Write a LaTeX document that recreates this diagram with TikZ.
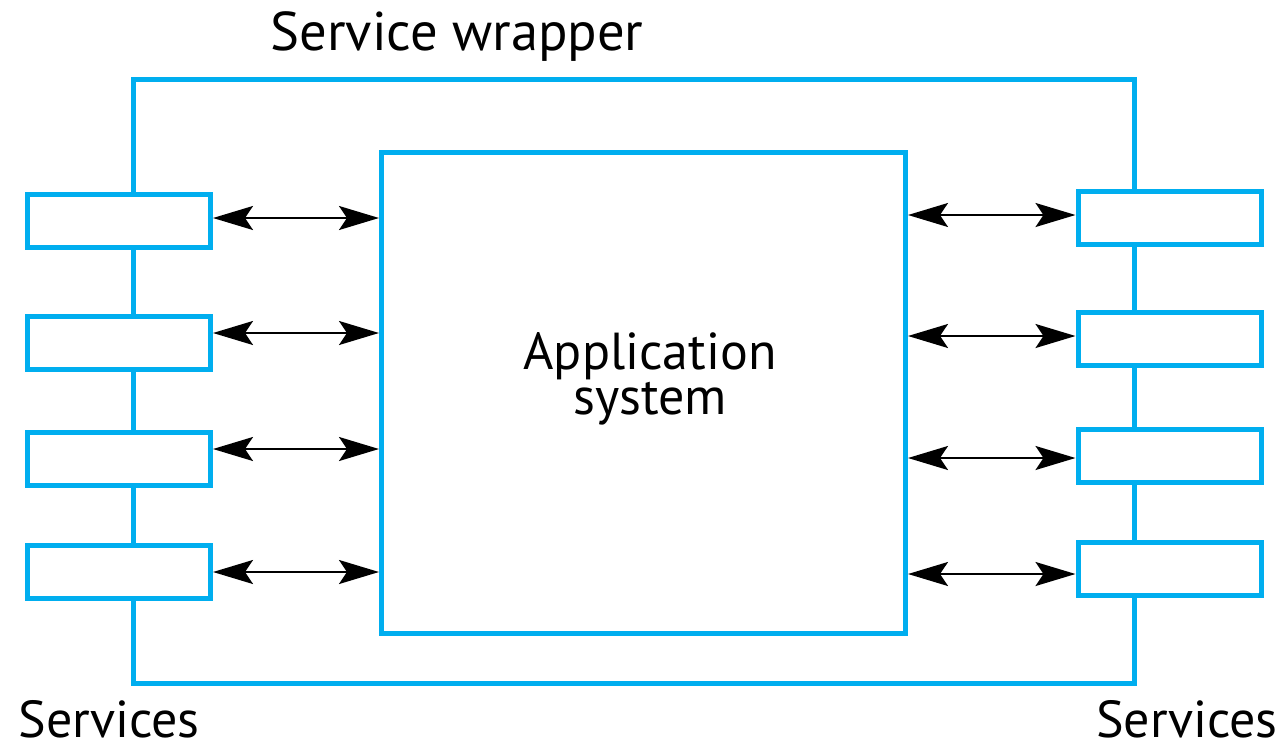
\documentclass[tikz,border=0pt]{standalone}
\usepackage{fontspec}
\setmainfont{PT Sans}
\usetikzlibrary{arrows.meta}
\definecolor{wblue}{HTML}{00AEEF}
\tikzset{
  blueline/.style={draw=wblue, line width=2.5pt},
  svcbox/.style={blueline, fill=white, rectangle, minimum width=91.5pt, minimum height=26.5pt, inner sep=0pt},
  dbl/.style={black, line width=1.1pt, {Stealth[length=20pt,width=12pt,inset=4pt]}-{Stealth[length=20pt,width=12pt,inset=4pt]}},
  lbl/.style={font=\fontsize{26}{21}\selectfont, inner sep=0pt, align=center}
}
\begin{document}
\begin{tikzpicture}[x=0.5pt,y=-0.5pt]
\useasboundingbox (0,0) rectangle (1286,750);
% wrapper
\node[blueline, rectangle, minimum width=500.5pt, minimum height=302pt, inner sep=0pt] (wrapper) at (634,381) {};
% application system
\node[blueline, rectangle, fill=white, minimum width=262pt, minimum height=240.5pt, inner sep=0pt] (app) at (643.5,393) {};
\node[lbl] (apptext) at (650,379) {Application\\system};
% left services
\node[svcbox] (l1) at (119,221) {};
\node[svcbox] (l2) at (119,343) {};
\node[svcbox] (l3) at (119,459) {};
\node[svcbox] (l4) at (119,572) {};
% right services
\node[svcbox] (r1) at (1169.5,218) {};
\node[svcbox] (r2) at (1169.5,339) {};
\node[svcbox] (r3) at (1169.5,456) {};
\node[svcbox] (r4) at (1169.5,569) {};
% arrows
\draw[dbl] (l1.east |- 0,218) -- (app.west |- 0,218);
\draw[dbl] (l2.east |- 0,333) -- (app.west |- 0,333);
\draw[dbl] (l3.east |- 0,449) -- (app.west |- 0,449);
\draw[dbl] (l4.east |- 0,572) -- (app.west |- 0,572);
\draw[dbl] (app.east |- 0,215) -- (r1.west |- 0,215);
\draw[dbl] (app.east |- 0,336) -- (r2.west |- 0,336);
\draw[dbl] (app.east |- 0,458) -- (r3.west |- 0,458);
\draw[dbl] (app.east |- 0,574) -- (r4.west |- 0,574);
% labels
\node[lbl, font=\fontsize{27.3}{20}\selectfont, anchor=base west] (wraptext) at (270,50) {Service wrapper};
\node[lbl, anchor=base west] (svcl) at (18,737) {Services};
\node[lbl, anchor=base east] (svcr) at (1278,737) {Services};
\end{tikzpicture}
\end{document}
